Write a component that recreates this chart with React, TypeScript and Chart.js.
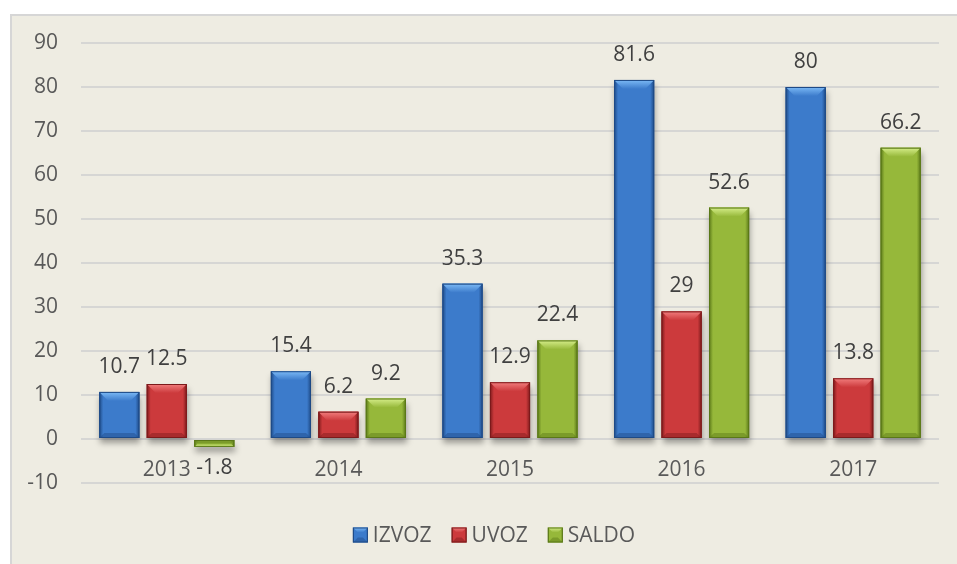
import { useEffect, useRef } from "react";
import { Chart, registerables } from "chart.js";

Chart.register(...registerables);

const categories = ["2013", "2014", "2015", "2016", "2017"];
const izvoz = [10.7, 15.4, 35.3, 81.6, 80];
const uvoz = [12.5, 6.2, 12.9, 29, 13.8];
const saldo = [-1.8, 9.2, 22.4, 52.6, 66.2];
const seriesNames = ["IZVOZ", "UVOZ", "SALDO"];
const yMin = -10;
const yMax = 90;
const yStep = 10;

const palette = [
  { base: "#3c7bcb", light: "#7cbaf6", dark: "#1e4a86" },
  { base: "#cc3a3c", light: "#f27e7e", dark: "#7c1a1b" },
  { base: "#96b83a", light: "#d6ee8a", dark: "#5a7818" },
];

const FONT = "'Open Sans', sans-serif";
const FS = 21;
const TEXT = "#595959";

function barBox(bar: any) {
  const { x, y, base, width } = bar.getProps(["x", "y", "base", "width"], true);
  return { x, y, base, width };
}

const shadowPlugin = {
  id: "barShadow",
  beforeDatasetsDraw(chart: any) {
    const ctx = chart.ctx;
    chart.data.datasets.forEach((_ds: any, i: number) => {
      chart.getDatasetMeta(i).data.forEach((bar: any) => {
        const { x, y, base, width } = barBox(bar);
        const t = Math.min(y, base);
        const b = Math.max(y, base);
        ctx.save();
        ctx.shadowColor = "rgba(0,0,0,0.35)";
        ctx.shadowBlur = 6;
        ctx.shadowOffsetX = 1;
        ctx.shadowOffsetY = 5;
        ctx.fillStyle = "#888";
        ctx.fillRect(x - width / 2, t, width, b - t);
        ctx.restore();
      });
    });
  },
};

function drawBevelRect(ctx: CanvasRenderingContext2D, l: number, t: number, w: number, h: number, c: any, neg: boolean, maxBev: number) {
  const r = l + w;
  const b = t + h;
  const bev = Math.min(maxBev, h / 2, w / 2);
  const g = ctx.createLinearGradient(l, 0, r, 0);
  g.addColorStop(0, c.dark);
  g.addColorStop(0.1, c.base);
  g.addColorStop(0.9, c.base);
  g.addColorStop(1, c.dark);
  ctx.fillStyle = g;
  ctx.fillRect(l, t, w, h);
  const capY = neg ? b : t;
  const dir = neg ? -1 : 1;
  ctx.beginPath();
  ctx.moveTo(l, capY);
  ctx.lineTo(r, capY);
  ctx.lineTo(r - bev, capY + dir * bev);
  ctx.lineTo(l + bev, capY + dir * bev);
  ctx.closePath();
  const tg = ctx.createLinearGradient(0, capY, 0, capY + dir * bev);
  tg.addColorStop(0, c.light);
  tg.addColorStop(1, c.base);
  ctx.fillStyle = tg;
  ctx.fill();
  const endY = neg ? t : b;
  const bb = Math.min(bev, 5);
  ctx.beginPath();
  ctx.moveTo(l, endY);
  ctx.lineTo(r, endY);
  ctx.lineTo(r - bb, endY - dir * bb);
  ctx.lineTo(l + bb, endY - dir * bb);
  ctx.closePath();
  ctx.globalAlpha = 0.45;
  ctx.fillStyle = c.dark;
  ctx.fill();
  ctx.globalAlpha = 1;
  ctx.strokeStyle = c.dark;
  ctx.lineWidth = 1;
  ctx.strokeRect(l + 0.5, t + 0.5, w - 1, h - 1);
}

const bevelPlugin = {
  id: "bevel",
  afterDatasetsDraw(chart: any) {
    const ctx = chart.ctx;
    chart.data.datasets.forEach((_ds: any, i: number) => {
      const c = palette[i];
      chart.getDatasetMeta(i).data.forEach((bar: any) => {
        const { x, y, base, width } = barBox(bar);
        const t = Math.min(y, base);
        const b = Math.max(y, base);
        ctx.save();
        drawBevelRect(ctx, x - width / 2, t, width, b - t, c, y > base, 9);
        ctx.restore();
      });
    });
  },
};

const labelPlugin = {
  id: "valueLabels",
  afterDatasetsDraw(chart: any) {
    const ctx = chart.ctx;
    ctx.save();
    ctx.font = `${FS}px ${FONT}`;
    ctx.fillStyle = "#404040";
    ctx.textAlign = "center";
    ctx.textBaseline = "middle";
    chart.data.datasets.forEach((ds: any, i: number) => {
      chart.getDatasetMeta(i).data.forEach((bar: any, j: number) => {
        const { x, y } = barBox(bar);
        const v = ds.data[j];
        const ly = v >= 0 ? y - 25 : y + 21;
        ctx.fillText(String(v), x, ly);
      });
    });
    ctx.restore();
  },
};

const legendPlugin = {
  id: "customLegend",
  afterDraw(chart: any) {
    const ctx = chart.ctx;
    ctx.save();
    ctx.font = `${FS}px ${FONT}`;
    const box = 15;
    const gapText = 5;
    const gapItem = 20;
    const widths = chart.data.datasets.map((ds: any) => box + gapText + ctx.measureText(ds.label).width);
    const total = widths.reduce((a: number, b: number) => a + b, 0) + gapItem * (widths.length - 1);
    const centerX = (chart.chartArea.left + chart.chartArea.right) / 2 - 16;
    const cy = chart.chartArea.bottom + 52;
    let cx = centerX - total / 2;
    chart.data.datasets.forEach((ds: any, i: number) => {
      drawBevelRect(ctx, cx, cy - box / 2, box, box, palette[i], false, 5);
      ctx.fillStyle = TEXT;
      ctx.textAlign = "left";
      ctx.textBaseline = "middle";
      ctx.fillText(ds.label, cx + box + gapText, cy + 1);
      cx += widths[i] + gapItem;
    });
    ctx.restore();
  },
};

export default function App() {
  const ref = useRef<HTMLCanvasElement | null>(null);

  useEffect(() => {
    if (!ref.current) return;
    const seriesData = [izvoz, uvoz, saldo];
    const chart = new Chart(ref.current, {
      type: "bar",
      data: {
        labels: categories,
        datasets: seriesData.map((d, i) => ({
          label: seriesNames[i],
          data: d,
          backgroundColor: palette[i].base,
          borderWidth: 0,
          barPercentage: 0.845,
          categoryPercentage: 0.83,
        })),
      },
      options: {
        responsive: false,
        animation: false,
        devicePixelRatio: 1,
        layout: { padding: { top: 43, left: 10, right: 18, bottom: 81 } },
        plugins: {
          legend: { display: false },
          tooltip: { enabled: false },
        },
        scales: {
          x: {
            type: "category",
            position: { y: 0 } as any,
            grid: { display: false },
            border: { display: false },
            ticks: {
              color: TEXT,
              font: { family: FONT, size: FS },
              padding: 10,
              maxRotation: 0,
            },
          },
          y: {
            min: yMin,
            max: yMax,
            ticks: {
              stepSize: yStep,
              color: TEXT,
              font: { family: FONT, size: FS },
              padding: 23,
            },
            grid: { color: "#d6d6d4", lineWidth: 2, drawTicks: false },
            border: { display: false },
            afterFit: (s: any) => {
              s.width = 71;
            },
          },
        },
      },
      plugins: [shadowPlugin, bevelPlugin, labelPlugin, legendPlugin],
    });
    return () => chart.destroy();
  }, []);

  return (
    <div style={{ position: "fixed", left: 0, top: 0, width: 957, height: 564, background: "#ffffff" }}>
      <div
        style={{
          position: "absolute",
          left: 10,
          top: 14,
          right: 0,
          bottom: 0,
          background: "#eeece2",
          borderLeft: "2px solid #d6d6d6",
          borderTop: "2px solid #d6d6d6",
        }}
      />
      <canvas ref={ref} width={957} height={564} style={{ position: "absolute", left: 0, top: 0, width: 957, height: 564 }} />
    </div>
  );
}
